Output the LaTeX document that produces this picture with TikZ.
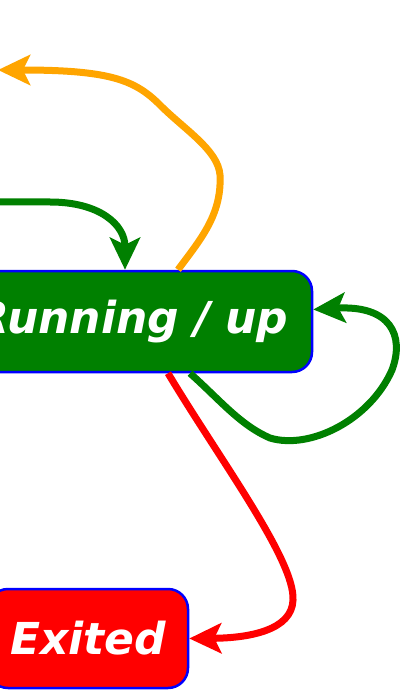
\documentclass[tikz,border=0pt]{standalone}
\usepackage{fontspec}
\setmainfont{DejaVu Sans}
\usetikzlibrary{arrows.meta}
\definecolor{sgreen}{RGB}{0,128,0}
\definecolor{sorange}{RGB}{255,165,0}
\definecolor{sred}{RGB}{255,0,0}
\definecolor{sblue}{RGB}{0,0,255}
\begin{document}
\begin{tikzpicture}[x=1pt,y=-1pt,
  state/.style={draw=sblue, line width=2.5pt, rounded corners=20pt, text=white,
    font=\fontsize{44}{50}\selectfont\bfseries\itshape, inner sep=0pt},
  conn/.style={line width=7pt, -{Stealth[length=32pt,width=30pt,inset=7pt]}}]
\useasboundingbox (0,0) rectangle (400,700);
\clip (0,0) rectangle (400,700);
\node[state, fill=sgreen, minimum width=370pt, minimum height=101pt] (run) at (127,321.5) {\hspace*{10pt}Running / up};
\node[state, fill=sred, minimum width=200pt, minimum height=99pt] (exit) at (88,638.5) {Exited};
\coordinate (oend) at (-2,70);
\coordinate (gstart) at (-10,202);
% orange
\draw[conn, sorange] ([xshift=51pt]run.north) .. controls (200,240) and (222,215) .. (220,175)
  .. controls (218,150) and (185,130) .. (160,105)
  .. controls (135,80) and (110,70) .. (oend);
% green from left
\draw[conn, sgreen] (gstart) -- (50,202) .. controls (100,202) and (125,225) .. ([xshift=-2pt]run.north);
% green self loop
\draw[conn, sgreen] ([xshift=63pt]run.south) .. controls (220,400) and (240,425) .. (270,438)
  .. controls (310,450) and (370,420) .. (392,370)
  .. controls (405,335) and (390,305) .. ([yshift=12pt]run.east);
% red
\draw[conn, sred] ([xshift=41pt]run.south) .. controls (220,460) and (295,560) .. (293,600)
  .. controls (292,630) and (250,638) .. (exit.east);
\end{tikzpicture}
\end{document}
